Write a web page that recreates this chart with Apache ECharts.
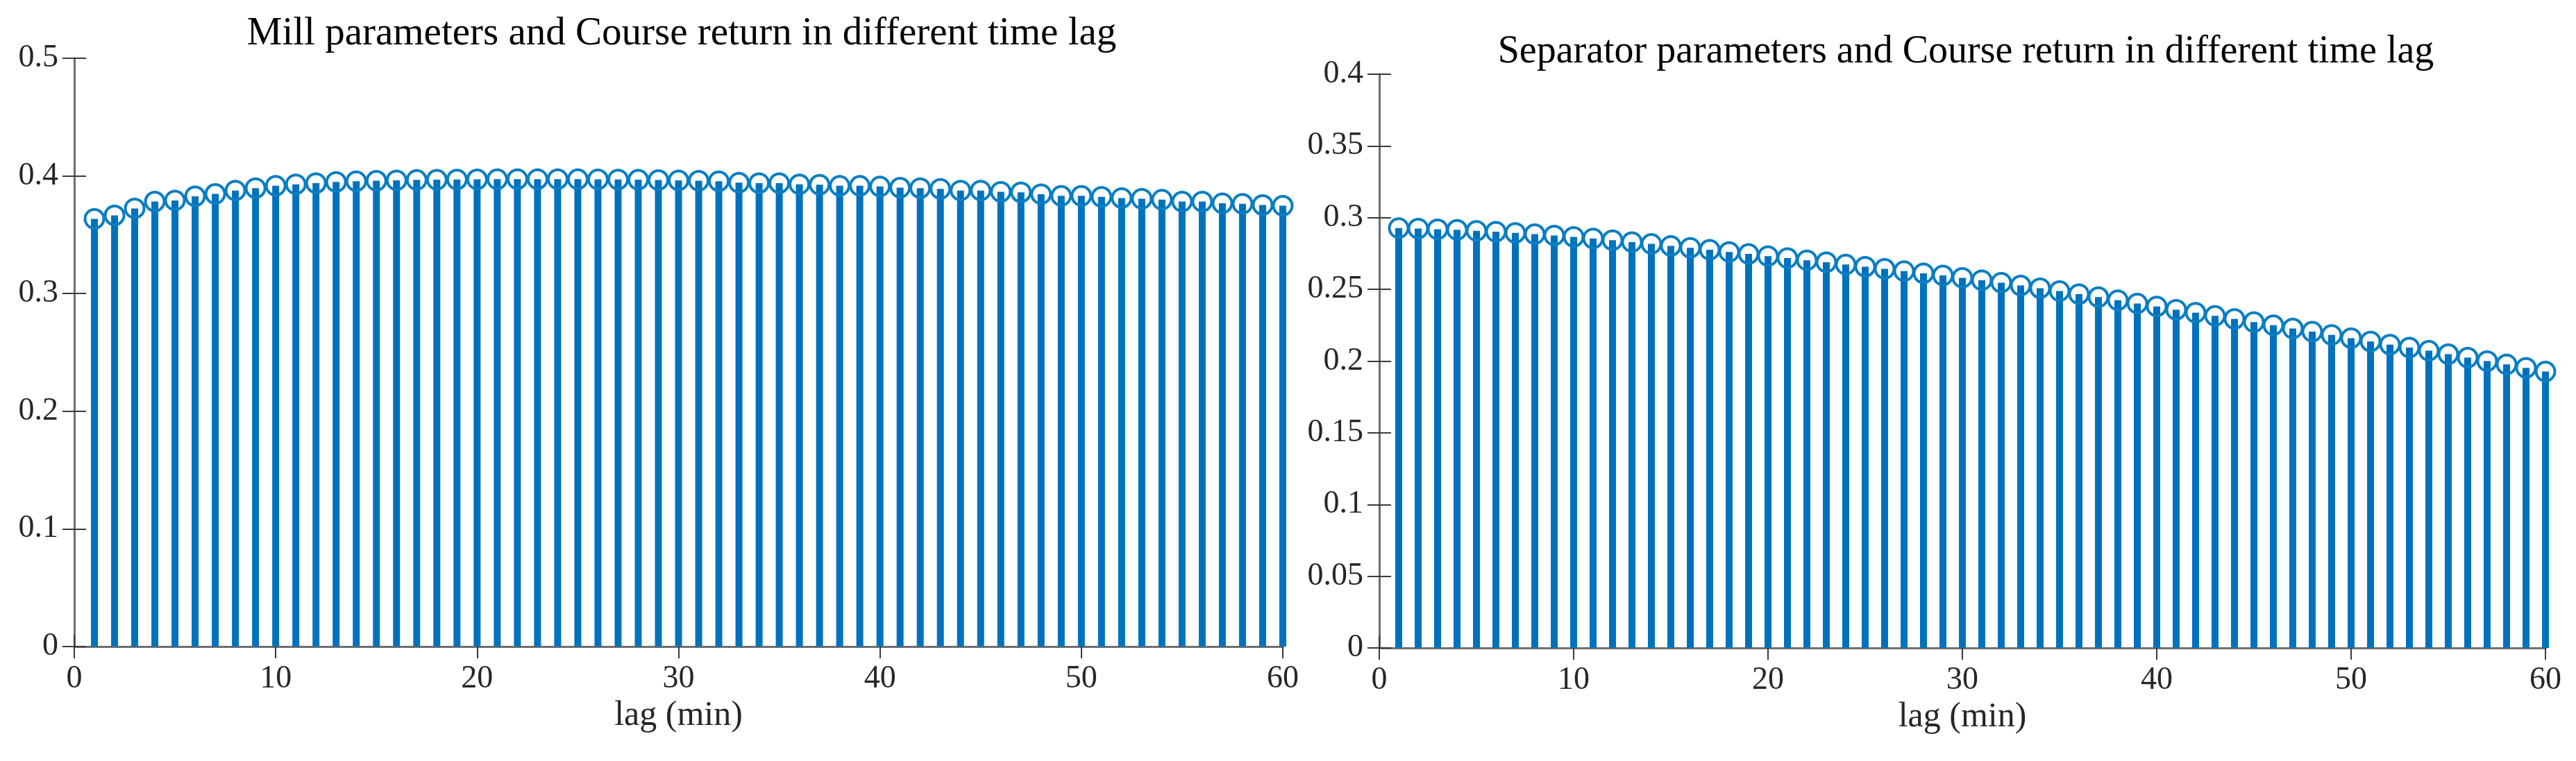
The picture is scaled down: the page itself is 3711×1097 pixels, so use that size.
<!DOCTYPE html>
<html>
<head>
<meta charset="utf-8">
<script src="https://cdn.jsdelivr.net/npm/echarts@6/dist/echarts.min.js"></script>
<style>
html,body{margin:0;padding:0;background:#fff;}
#c{width:3711px;height:1097px;}
</style>
</head>
<body>
<div id="c"></div>
<script>
const lags = [1,2,3,4,5,6,7,8,9,10,11,12,13,14,15,16,17,18,19,20,21,22,23,24,25,26,27,28,29,30,
  31,32,33,34,35,36,37,38,39,40,41,42,43,44,45,46,47,48,49,50,51,52,53,54,55,56,57,58,59,60];

const millCorr = [0.3635,0.3665,0.3724,0.3782,0.3792,0.3827,0.3847,0.3876,0.3896,0.3916,
  0.3929,0.3939,0.3949,0.3955,0.3959,0.3963,0.3966,0.3968,0.3970,0.3971,
  0.3972,0.3973,0.3973,0.3973,0.3972,0.3971,0.3970,0.3968,0.3965,0.3962,
  0.3959,0.3955,0.3943,0.3939,0.3939,0.3929,0.3925,0.3916,0.3916,0.3910,
  0.3900,0.3896,0.3890,0.3876,0.3876,0.3865,0.3861,0.3845,0.3831,0.3831,
  0.3822,0.3812,0.3806,0.3798,0.3782,0.3782,0.3767,0.3763,0.3753,0.3747];

const sepCorr = [0.2927,0.2924,0.2919,0.2915,0.2908,0.2902,0.2894,0.2885,0.2876,0.2866,
  0.2855,0.2843,0.2830,0.2817,0.2803,0.2790,0.2776,0.2761,0.2747,0.2732,
  0.2718,0.2703,0.2689,0.2673,0.2658,0.2643,0.2627,0.2612,0.2597,0.2581,
  0.2564,0.2547,0.2527,0.2508,0.2488,0.2467,0.2446,0.2424,0.2402,0.2381,
  0.2358,0.2337,0.2315,0.2294,0.2272,0.2250,0.2227,0.2205,0.2182,0.2160,
  0.2137,0.2115,0.2094,0.2072,0.2048,0.2024,0.2000,0.1977,0.1953,0.1927];

const titles = ['Mill parameters and Course return in different time lag',
                'Separator parameters and Course return in different time lag'];
const xName = 'lag (min)';
const xRange = {min: 0, max: 60, interval: 10};
const yRanges = [{min: 0, max: 0.5, interval: 0.1}, {min: 0, max: 0.4, interval: 0.05}];

const FONT = 'Liberation Serif';
const STEM = '#0072BD';
const MARK = '#0a7ec3';
const AXIS = '#6e6e6e';
const TICK = '#3a3a3a';

const grids = [
  {left: 107, right: 1863, top: 84, bottom: 165},
  {left: 1987, right: 44, top: 107, bottom: 163}
];

function pairs(ys){ return lags.map((x,i)=>[x, ys[i]]); }

const xAxes = [], yAxes = [], series = [];
[millCorr, sepCorr].forEach((ys, g) => {
  const lineStyle = {color: AXIS, width: 3};
  const tick = {show: true, inside: true, length: 17, lineStyle: {color: TICK, width: 2}};
  const lbl = {fontFamily: FONT, fontSize: 46, color: '#262626'};
  xAxes.push({
    type: 'value', gridIndex: g, position: 'bottom',
    min: xRange.min, max: xRange.max, interval: xRange.interval,
    name: xName, nameLocation: 'middle', nameGap: 66,
    nameTextStyle: {fontFamily: FONT, fontSize: 50, color: '#262626'},
    axisLine: {show: true, lineStyle}, axisTick: tick,
    axisLabel: Object.assign({margin: 24}, lbl),
    splitLine: {show: false}
  });
  xAxes.push({
    type: 'value', gridIndex: g, position: 'top',
    min: xRange.min, max: xRange.max, interval: xRange.interval,
    axisLine: {show: true, lineStyle}, axisTick: tick,
    axisLabel: {show: false}, splitLine: {show: false}
  });
  yAxes.push({
    type: 'value', gridIndex: g, position: 'left',
    min: yRanges[g].min, max: yRanges[g].max, interval: yRanges[g].interval,
    axisLine: {show: true, lineStyle}, axisTick: tick,
    axisLabel: Object.assign({margin: 23}, lbl),
    splitLine: {show: false}
  });
  yAxes.push({
    type: 'value', gridIndex: g, position: 'right',
    min: yRanges[g].min, max: yRanges[g].max, interval: yRanges[g].interval,
    axisLine: {show: true, lineStyle}, axisTick: tick,
    axisLabel: {show: false}, splitLine: {show: false}
  });
  series.push({
    type: 'bar', xAxisIndex: g*2, yAxisIndex: g*2,
    data: pairs(ys), barWidth: 10, itemStyle: {color: STEM},
    silent: true, animation: false
  });
  series.push({
    type: 'scatter', xAxisIndex: g*2, yAxisIndex: g*2,
    data: pairs(ys), symbol: 'circle', symbolSize: 27,
    itemStyle: {color: 'rgba(0,0,0,0)', borderColor: MARK, borderWidth: 4, opacity: 1},
    silent: true, animation: false, z: 3
  });
});

const chart = echarts.init(document.getElementById('c'), null, {renderer: 'canvas'});
chart.setOption({
  animation: false,
  backgroundColor: '#ffffff',
  textStyle: {fontFamily: FONT},
  title: [
    {text: titles[0], left: 977, top: 16, textAlign: 'center',
     textStyle: {fontFamily: FONT, fontSize: 57, fontWeight: 'normal', color: '#000'}},
    {text: titles[1], left: 2827, top: 42, textAlign: 'center',
     textStyle: {fontFamily: FONT, fontSize: 56, fontWeight: 'normal', color: '#000'}}
  ],
  grid: grids,
  xAxis: xAxes,
  yAxis: yAxes,
  series: series
});
</script>
</body>
</html>
